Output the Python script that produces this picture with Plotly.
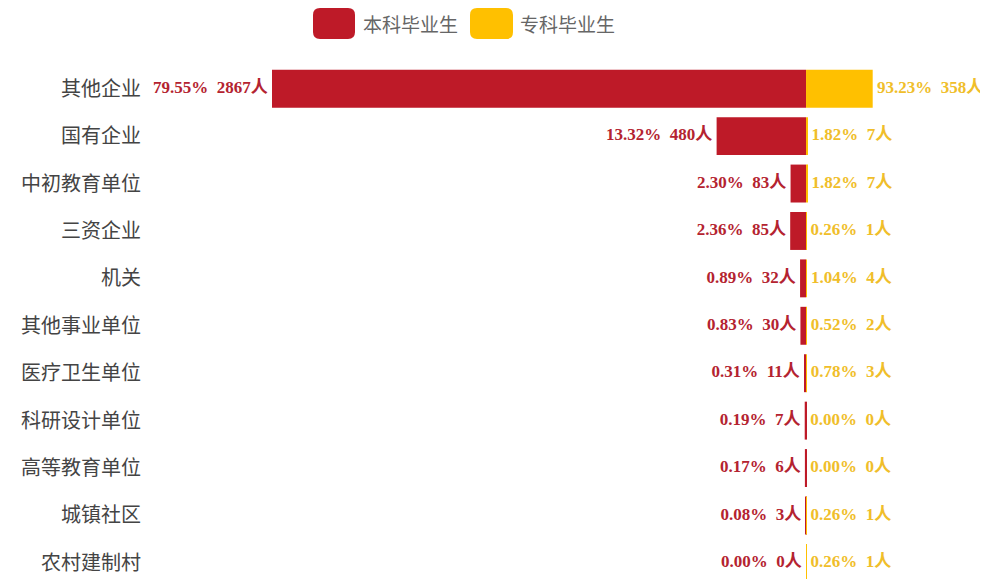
import plotly.graph_objects as go

categories = ["其他企业", "国有企业", "中初教育单位", "三资企业", "机关", "其他事业单位",
              "医疗卫生单位", "科研设计单位", "高等教育单位", "城镇社区", "农村建制村"]
bk_counts = [2867, 480, 83, 85, 32, 30, 11, 7, 6, 3, 0]
bk_pct = [79.55, 13.32, 2.30, 2.36, 0.89, 0.83, 0.31, 0.19, 0.17, 0.08, 0.00]
zk_counts = [358, 7, 7, 1, 4, 2, 3, 0, 0, 1, 1]
zk_pct = [93.23, 1.82, 1.82, 0.26, 1.04, 0.52, 0.78, 0.00, 0.00, 0.26, 0.26]
series_names = ["本科毕业生", "专科毕业生"]

RED = "#BE1A28"
YEL = "#FFC000"
RED_T = "#B42330"
YEL_T = "#F0BE2A"
LBL_FONT = "Liberation Serif, Noto Sans CJK SC"
NB = "\u00a0"

# the page body has an 8px margin, so the figure is drawn 8px in from the corner
W, H = 980, 571
PLOT_L = 142   # figure px
PLOT_T = 57

fig = go.Figure()
fig.add_trace(go.Bar(y=categories, x=[-v for v in bk_counts], orientation="h",
                     marker=dict(color=RED, line=dict(width=0)), name=series_names[0],
                     hoverinfo="skip"))
fig.add_trace(go.Bar(y=categories, x=zk_counts, orientation="h",
                     marker=dict(color=YEL, line=dict(width=0)), name=series_names[1],
                     hoverinfo="skip"))

fig.add_trace(go.Scatter(
    y=categories, x=[-v for v in bk_counts], mode="text",
    text=[f"{p:.2f}%{NB}{NB}{c}人{NB}" for p, c in zip(bk_pct, bk_counts)],
    textposition="middle left",
    textfont=dict(family=LBL_FONT, size=17, color=RED_T, weight="bold"),
    cliponaxis=False, hoverinfo="skip", showlegend=False))
fig.add_trace(go.Scatter(
    y=categories, x=zk_counts, mode="text",
    text=[f"{NB}{p:.2f}%{NB}{NB}{c}人" for p, c in zip(zk_pct, zk_counts)],
    textposition="middle right",
    textfont=dict(family=LBL_FONT, size=17, color=YEL_T, weight="bold"),
    cliponaxis=False, hoverinfo="skip", showlegend=False))

# custom legend (large rounded swatches)
def rrect(x0, y0, x1, y1, rx, ry):
    return (f"M{x0+rx},{y0} L{x1-rx},{y0} Q{x1},{y0} {x1},{y0+ry} L{x1},{y1-ry} Q{x1},{y1} {x1-rx},{y1} "
            f"L{x0+rx},{y1} Q{x0},{y1} {x0},{y1-ry} L{x0},{y0+ry} Q{x0},{y0} {x0+rx},{y0} Z")

def px(x): return x / W
def py(y): return 1 - y / H

shapes = []
annotations = []
for (x0, x1, col, tx, name) in [(305, 347, RED, 353, series_names[0]), (462, 505, YEL, 510, series_names[1])]:
    shapes.append(dict(type="path", xref="paper", yref="paper", line=dict(width=0), fillcolor=col,
                       path=rrect(px(x0), py(31), px(x1), py(0), 7 / W, 7 / H)))
    annotations.append(dict(x=px(tx), y=py(15), xref="paper", yref="paper", text=name,
                            showarrow=False, xanchor="left", yanchor="middle",
                            font=dict(family="Noto Sans CJK SC", size=19, color="#666666")))

fig.update_layout(
    width=W, height=H,
    margin=dict(l=0, r=0, t=0, b=0, pad=0, autoexpand=False),
    paper_bgcolor="white", plot_bgcolor="white",
    barmode="relative", bargap=0.2,
    showlegend=False,
    shapes=shapes, annotations=annotations,
    xaxis=dict(range=[-3522, 977], domain=[PLOT_L / W, 1], visible=False, fixedrange=True),
    yaxis=dict(type="category", categoryorder="array", categoryarray=categories,
               domain=[0, 1 - PLOT_T / H],
               range=[10.34, -0.5], showgrid=False, zeroline=False, showline=False,
               ticks="", ticklabelstandoff=8,
               tickfont=dict(family="Noto Sans CJK SC", size=20, color="#444444")),
)

fig.write_html("out.html")
